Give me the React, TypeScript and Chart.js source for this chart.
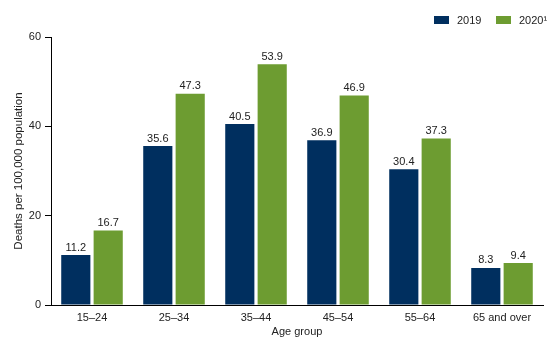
import React, { useEffect, useRef } from "react";
import { Chart, registerables } from "chart.js";

Chart.register(...registerables);

const categories = ["15–24", "25–34", "35–44", "45–54", "55–64", "65 and over"];
const values2019 = [11.2, 35.6, 40.5, 36.9, 30.4, 8.3];
const values2020 = [16.7, 47.3, 53.9, 46.9, 37.3, 9.4];
const seriesLabels = ["2019", "2020¹"];
const yTicks = [0, 20, 40, 60];

const BLUE = "#002f5f";
const GREEN = "#6d9c31";
const FONT = "'Liberation Sans', Arial, sans-serif";

const valueLabels = {
  id: "valueLabels",
  afterDatasetsDraw(chart: any) {
    const ctx = chart.ctx;
    ctx.save();
    ctx.font = `11px ${FONT}`;
    ctx.fillStyle = "#222";
    ctx.textAlign = "center";
    ctx.textBaseline = "bottom";
    chart.data.datasets.forEach((ds: any, i: number) => {
      const meta = chart.getDatasetMeta(i);
      meta.data.forEach((bar: any, j: number) => {
        ctx.fillText(ds.data[j].toFixed(1), bar.x, bar.y - 2);
      });
    });
    ctx.restore();
  },
};

const customLegend = {
  id: "customLegend",
  afterDraw(chart: any) {
    const ctx = chart.ctx;
    ctx.save();
    ctx.font = `11px ${FONT}`;
    ctx.textBaseline = "middle";
    const items = [
      { x: 434, color: BLUE, label: seriesLabels[0] },
      { x: 496, color: GREEN, label: seriesLabels[1] },
    ];
    items.forEach((it) => {
      ctx.fillStyle = it.color;
      ctx.fillRect(it.x, 16, 15, 8);
      ctx.fillStyle = "#222";
      ctx.fillText(it.label, it.x + 23, 20.5);
    });
    ctx.restore();
  },
};

export default function App() {
  const ref = useRef<HTMLCanvasElement>(null);
  useEffect(() => {
    document.body.style.margin = "0";
    const chart = new Chart(ref.current!, {
      type: "bar",
      data: {
        labels: categories,
        datasets: [
          { label: seriesLabels[0], data: values2019, backgroundColor: BLUE },
          { label: seriesLabels[1], data: values2020, backgroundColor: GREEN },
        ],
      },
      options: {
        animation: false,
        responsive: false,
        maintainAspectRatio: false,
        layout: { padding: { top: 37, right: 17, left: 12, bottom: 0 } },
        datasets: { bar: { categoryPercentage: 0.79, barPercentage: 0.9 } } as any,
        plugins: {
          legend: { display: false },
          tooltip: { enabled: false },
        },
        scales: {
          x: {
            grid: { display: false, drawTicks: false },
            border: { display: true, color: "#000", width: 1 },
            ticks: { color: "#222", font: { family: FONT, size: 11 }, padding: 6 },
            title: {
              display: true,
              text: "Age group",
              color: "#222",
              font: { family: FONT, size: 11 },
              padding: { top: 2, bottom: 12 },
            },
            afterFit(scale: any) {
              scale.height = 46;
            },
          },
          y: {
            min: 0,
            max: 60,
            afterBuildTicks(scale: any) {
              scale.ticks = yTicks.map((v) => ({ value: v }));
            },
            grid: { drawOnChartArea: false, drawTicks: true, tickLength: 6, color: "#000" },
            border: { display: true, color: "#000", width: 1 },
            ticks: { color: "#222", font: { family: FONT, size: 11 }, padding: 4 },
            title: {
              display: true,
              text: "Deaths per 100,000 population",
              color: "#222",
              font: { family: FONT, size: 11.5 },
              padding: { top: 0, bottom: 0 },
            },
            afterFit(scale: any) {
              scale.width = 39;
            },
          },
        },
      },
      plugins: [valueLabels, customLegend],
    });
    return () => chart.destroy();
  }, []);
  return <canvas ref={ref} width={560} height={351} style={{ display: "block" }} />;
}
